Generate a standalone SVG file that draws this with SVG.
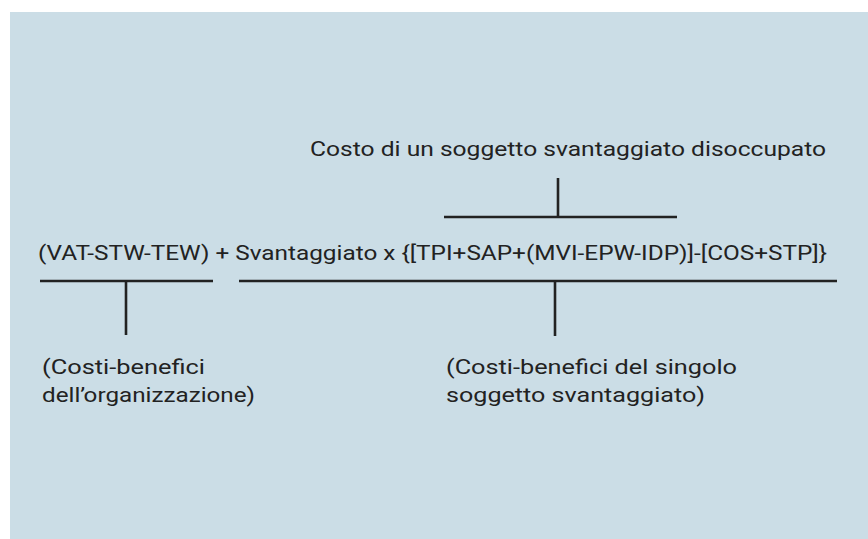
<svg xmlns="http://www.w3.org/2000/svg" width="868" height="539" viewBox="0 0 868 539">
<style>
.t{font-family:Roboto,"Liberation Sans",sans-serif;font-size:21px;fill:#222;}
.ln{stroke:#222;stroke-width:2.6;fill:none;}
</style>
<rect x="0" y="0" width="868" height="539" fill="#ffffff"/>
<rect x="10" y="12" width="858" height="527" fill="#cbdde6"/>
<g id="top-label"><text class="t" x="310" y="156" textLength="516" lengthAdjust="spacingAndGlyphs">Costo di un soggetto svantaggiato disoccupato</text></g>
<g id="formula"><text class="t" x="38" y="260" textLength="789" lengthAdjust="spacingAndGlyphs">(VAT-STW-TEW) + Svantaggiato x {[TPI+SAP+(MVI-EPW-IDP)]-[COS+STP]}</text></g>
<g id="left-label">
<text class="t" x="42" y="374" textLength="163" lengthAdjust="spacingAndGlyphs">(Costi-benefici</text>
<text class="t" x="42" y="402" textLength="213" lengthAdjust="spacingAndGlyphs">dell’organizzazione)</text>
</g>
<g id="right-label">
<text class="t" x="446" y="374" textLength="291" lengthAdjust="spacingAndGlyphs">(Costi-benefici del singolo</text>
<text class="t" x="446" y="402" textLength="259" lengthAdjust="spacingAndGlyphs">soggetto svantaggiato)</text>
</g>
<g id="connectors">
<line class="ln" x1="558" y1="178" x2="558" y2="217"/>
<line class="ln" x1="444" y1="217" x2="677" y2="217"/>
<line class="ln" x1="40" y1="281" x2="213" y2="281"/>
<line class="ln" x1="239" y1="281" x2="837" y2="281"/>
<line class="ln" x1="126" y1="281" x2="126" y2="335"/>
<line class="ln" x1="555" y1="281" x2="555" y2="336"/>
</g>
</svg>
